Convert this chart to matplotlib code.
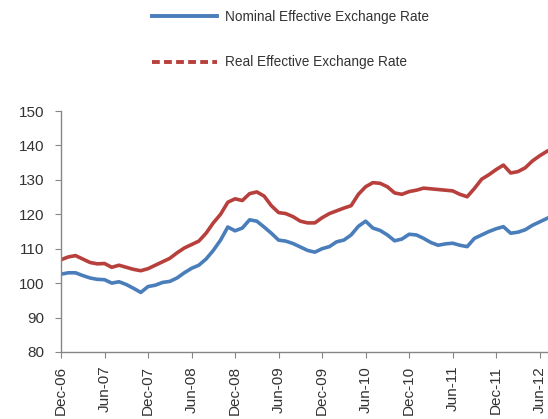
import numpy as np
import matplotlib
matplotlib.use("Agg")
import matplotlib.pyplot as plt
from matplotlib.lines import Line2D

plt.rcParams['font.family'] = ['Liberation Sans', 'DejaVu Sans']

# monthly observations, Dec-06 .. Jul-12
neer = [102.6, 103.0, 103.0, 102.2, 101.5, 101.1, 101.0, 100.0, 100.4, 99.6,
        98.5, 97.3, 99.0, 99.4, 100.2, 100.5, 101.5, 103.0, 104.3, 105.2,
        107.0, 109.5, 112.5, 116.3, 115.2, 116.0, 118.4, 118.0, 116.3, 114.5,
        112.5, 112.2, 111.5, 110.5, 109.5, 109.0, 110.0, 110.6, 112.0, 112.5,
        114.0, 116.5, 118.0, 116.0, 115.3, 114.0, 112.3, 112.8, 114.2, 114.0,
        113.0, 111.8, 111.0, 111.4, 111.6, 111.0, 110.6, 113.0, 114.0, 115.0,
        115.8, 116.4, 114.5, 114.8, 115.5, 116.8, 117.8, 118.8]
reer = [106.8, 107.6, 108.0, 107.0, 106.0, 105.6, 105.7, 104.6, 105.2, 104.6,
        104.0, 103.6, 104.2, 105.2, 106.2, 107.2, 108.8, 110.2, 111.2, 112.2,
        114.5, 117.5, 120.0, 123.5, 124.5, 124.0, 126.0, 126.5, 125.3, 122.5,
        120.5, 120.2, 119.3, 118.0, 117.5, 117.5, 119.0, 120.2, 121.0, 121.8,
        122.5, 125.8, 128.0, 129.2, 129.0, 128.0, 126.2, 125.8, 126.6, 127.0,
        127.6, 127.4, 127.2, 127.0, 126.8, 125.8, 125.1, 127.5, 130.2, 131.5,
        133.0, 134.3, 132.0, 132.4, 133.5, 135.5, 137.0, 138.3]
tick_labels = ["Dec-06", "Jun-07", "Dec-07", "Jun-08", "Dec-08", "Jun-09",
               "Dec-09", "Jun-10", "Dec-10", "Jun-11", "Dec-11", "Jun-12"]
series_names = ["Nominal Effective Exchange Rate", "Real Effective Exchange Rate"]

blue = "#4a7ebb"
red = "#b8403c"
months = np.arange(len(neer))

fig = plt.figure(figsize=(5.48, 4.19), dpi=100)
ax = fig.add_axes([0.1113, 0.160, 0.90, 0.575])

ax.plot(months, neer, color=blue, lw=2.6, solid_joinstyle='round')
ax.plot(months, reer, color=red, lw=2.6, solid_joinstyle='round')

ax.set_ylim(80, 150)
ax.set_yticks(np.arange(80, 151, 10))
ax.set_xlim(0, 68)
ax.set_xticks(np.arange(0, 6 * len(tick_labels), 6))
ax.set_xticklabels(tick_labels, rotation=90)

for side in ['top', 'right']:
    ax.spines[side].set_visible(False)
for side in ['left', 'bottom']:
    ax.spines[side].set_color('#868686')
    ax.spines[side].set_linewidth(1.0)
ax.tick_params(axis='both', colors='#868686', labelcolor='#333333',
               labelsize=11, length=4, direction='out')
ax.tick_params(axis='y', pad=8)
ax.tick_params(axis='x', pad=6)

handles = [Line2D([], [], color=blue, lw=2.8),
           Line2D([], [], color=red, lw=2.8, ls=(0, (2.0, 1.1)))]
fig.legend(handles, series_names, loc='upper left', bbox_to_anchor=(0.255, 1.005),
           frameon=False, fontsize=9.8, handlelength=4.8, handletextpad=0.55,
           labelspacing=2.3, labelcolor='#333333')

fig.savefig("out.png", dpi=100)
